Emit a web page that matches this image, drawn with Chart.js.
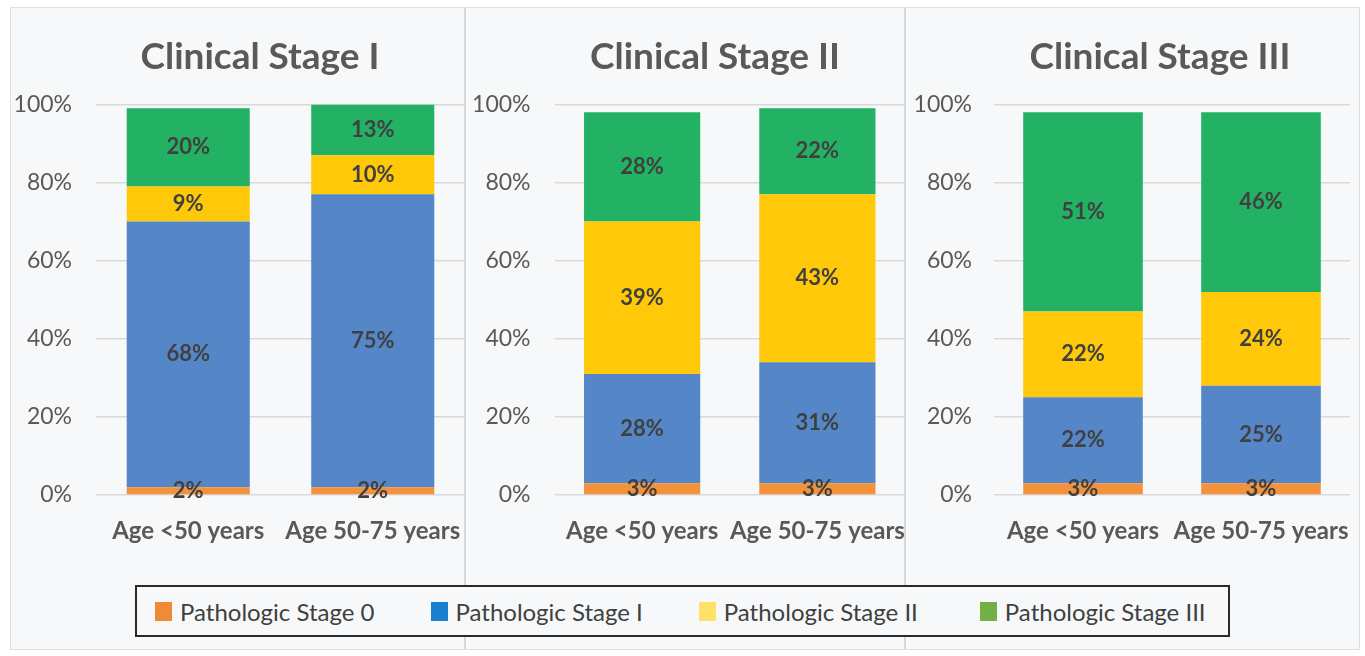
<!DOCTYPE html>
<html>
<head>
<meta charset="utf-8">
<title>Pathologic stage by clinical stage and age</title>
<script src="https://cdn.jsdelivr.net/npm/chart.js@4.4.1/dist/chart.umd.min.js"></script>
<style>
  html, body { margin: 0; padding: 0; background: #ffffff; width: 1365px; height: 656px; overflow: hidden; font-family: Lato, "Open Sans", sans-serif; }
  #frame { position: absolute; left: 10px; top: 7px; width: 1350px; height: 643px; border: 1.5px solid #dcdedf; background: #f6f8f9; box-sizing: border-box; }
  .sep { position: absolute; top: 8px; height: 641px; width: 2px; background: #d5d8da; }
  .panel { position: absolute; top: 0; }
  #legend { position: absolute; left: 135px; top: 585px; width: 1095px; height: 52px; border: 2px solid #2a2a2a; box-sizing: border-box; background: #f6f8f9; display: flex; align-items: center; padding-left: 18px; }
  .item { display: flex; align-items: center; margin-right: 56px; font-size: 24px; color: #404040; white-space: nowrap; }
  .item:nth-child(3) { margin-right: 62px; }
  .swatch { width: 17px; height: 19px; margin-right: 8px; }
</style>
</head>
<body>
<div id="frame"></div>
<div class="sep" style="left:464px"></div>
<div class="sep" style="left:904px"></div>
<canvas id="c1" class="panel" width="453" height="560" style="left:12px;width:453px;height:560px"></canvas>
<canvas id="c2" class="panel" width="438" height="560" style="left:467px;width:438px;height:560px"></canvas>
<canvas id="c3" class="panel" width="443" height="560" style="left:907px;width:443px;height:560px"></canvas>
<div id="legend"></div>
<script>
// Categories along each x axis
const categories = ['Age <50 years', 'Age 50-75 years'];

// Panel titles (clinical stage)
const panelTitles = ['Clinical Stage I', 'Clinical Stage II', 'Clinical Stage III'];

// Series (pathologic stage), bottom to top of each stack
const seriesNames = ['Pathologic Stage 0', 'Pathologic Stage I', 'Pathologic Stage II', 'Pathologic Stage III'];

// Percentages per panel: one row per pathologic stage, one column per age group
const clinicalStageI   = [[2, 2], [68, 75], [9, 10], [20, 13]];
const clinicalStageII  = [[3, 3], [28, 31], [39, 43], [28, 22]];
const clinicalStageIII = [[3, 3], [22, 25], [22, 24], [51, 46]];

// Y axis tick values
const yTickValues = [0, 20, 40, 60, 80, 100];

// Styling
const barColors = ['#f4923c', '#5586c7', '#ffc90a', '#23b264'];
const legendColors = ['#f08a35', '#1b7fcf', '#ffe169', '#72b046'];

const panelData = [clinicalStageI, clinicalStageII, clinicalStageIII];
// axisWidth: room for the y tick labels; titleLeft: where the title band starts
const panelLayout = [
  { id: 'c1', axisWidth: 84,   tickPad: 24, barPct: 0.667, titleLeft: 43 },
  { id: 'c2', axisWidth: 87.5, tickPad: 24, barPct: 0.663, titleLeft: 58 },
  { id: 'c3', axisWidth: 87,   tickPad: 22, barPct: 0.672, titleLeft: 63 }
];

// Writes each segment's percentage in the middle of its bar piece
const valueLabels = {
  id: 'valueLabels',
  afterDatasetsDraw(chart) {
    const ctx = chart.ctx;
    ctx.save();
    ctx.font = 'bold 22px Lato';
    ctx.fillStyle = '#404040';
    ctx.textAlign = 'center';
    ctx.textBaseline = 'middle';
    chart.data.datasets.forEach((ds, di) => {
      const meta = chart.getDatasetMeta(di);
      meta.data.forEach((bar, i) => {
        const v = ds.data[i];
        ctx.fillText(v + '%', bar.x, (bar.y + bar.base) / 2);
      });
    });
    ctx.restore();
  }
};

// Centres the title over the band from titleLeft to the plot's right edge
const titleBand = {
  id: 'titleBand',
  afterLayout(chart, args, opts) {
    const t = chart.titleBlock;
    if (!t) return;
    t.left = opts.left;
    t.right = chart.chartArea.right;
    t.width = t.right - t.left;
  }
};

function buildLegend() {
  const box = document.getElementById('legend');
  seriesNames.forEach((name, i) => {
    const item = document.createElement('div');
    item.className = 'item';
    const sw = document.createElement('span');
    sw.className = 'swatch';
    sw.style.background = legendColors[i];
    const tx = document.createElement('span');
    tx.textContent = name;
    item.appendChild(sw);
    item.appendChild(tx);
    box.appendChild(item);
  });
}

function buildPanel(p) {
  const cfg = panelLayout[p];
  const rows = panelData[p];
  new Chart(document.getElementById(cfg.id), {
    type: 'bar',
    data: {
      labels: categories,
      datasets: seriesNames.map((name, i) => ({
        label: name,
        data: rows[i],
        backgroundColor: barColors[i],
        borderWidth: 0,
        categoryPercentage: 1,
        barPercentage: cfg.barPct
      }))
    },
    options: {
      responsive: false,
      animation: false,
      devicePixelRatio: 1,
      layout: { padding: { left: 0, right: 0, top: 0, bottom: 17 } },
      plugins: {
        legend: { display: false },
        tooltip: { enabled: false },
        title: {
          display: true,
          text: panelTitles[p],
          color: '#595959',
          font: { family: 'Lato', size: 37, weight: 'bold', lineHeight: 1.2 },
          padding: { top: 35, bottom: 25 }
        },
        titleBand: { left: cfg.titleLeft }
      },
      scales: {
        x: {
          stacked: true,
          grid: { display: false, drawTicks: false },
          border: { display: false },
          ticks: {
            color: '#595959',
            font: { family: 'Lato', size: 24, weight: 'bold' },
            padding: 22,
            maxRotation: 0,
            autoSkip: false
          },
          afterFit: s => { s.height = 48; s.paddingLeft = 0; s.paddingRight = 0; }
        },
        y: {
          stacked: true,
          min: 0,
          max: 100,
          afterBuildTicks: s => { s.ticks = yTickValues.map(v => ({ value: v })); },
          ticks: {
            callback: v => v + '%',
            color: '#595959',
            font: { family: 'Lato', size: 23 },
            padding: cfg.tickPad
          },
          grid: { color: '#d9d9d9', lineWidth: 1.5, drawTicks: false },
          border: { display: false },
          afterFit: s => { s.width = cfg.axisWidth; s.paddingTop = 0; s.paddingBottom = 0; }
        }
      }
    },
    plugins: [valueLabels, titleBand]
  });
}

function start() {
  buildLegend();
  [0, 1, 2].forEach(buildPanel);
}

Promise.all([
  document.fonts.load('bold 37px Lato'),
  document.fonts.load('23px Lato'),
  document.fonts.load('bold 22px Lato'),
  document.fonts.load('24px Lato')
]).then(start, start);
</script>
</body>
</html>
